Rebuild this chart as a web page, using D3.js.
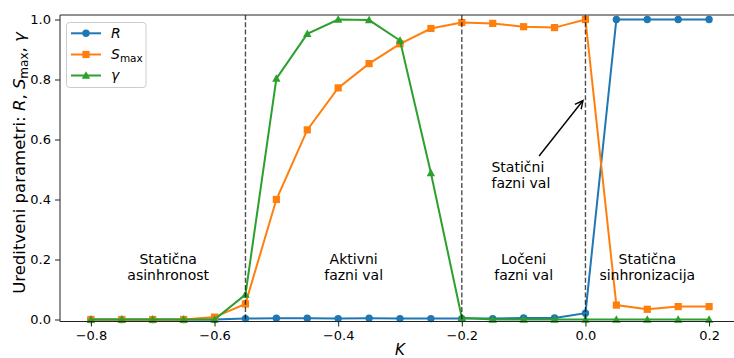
<!DOCTYPE html>
<html><head><meta charset="utf-8">
<script src="https://cdn.jsdelivr.net/npm/d3@7"></script>
<style>
body{margin:0;background:#fff;}
svg{display:block;font-family:"DejaVu Sans",sans-serif;}
</style></head>
<body><svg id="chart" width="734" height="358"></svg>
<script>
const K = [-0.8,-0.75,-0.7,-0.65,-0.6,-0.55,-0.5,-0.45,-0.4,-0.35,-0.3,-0.25,-0.2,-0.15,-0.1,-0.05,0.0,0.05,0.1,0.15,0.2];
const R = [0,0,0,0,0,0.003,0.004,0.004,0.003,0.004,0.003,0.003,0.003,0.003,0.005,0.005,0.021,1.0,1.0,1.0,1.0];
const Smax = [0,0,0,0,0.008,0.052,0.40,0.632,0.772,0.853,0.919,0.97,0.99,0.987,0.976,0.973,1.0,0.048,0.034,0.043,0.043];
const gamma = [0,0,0,0,0,0.083,0.803,0.952,1.0,0.998,0.93,0.488,0.006,0,0,0,0,0,0,0,0];
const xTicks = [-0.8,-0.6,-0.4,-0.2,0.0,0.2];
const yTicks = [0,0.2,0.4,0.6,0.8,1.0];
const vLines = [-0.55,-0.2,0.0];
const regionLabels = [
  {k:-0.675, y:0.175, lines:["Statična","asinhronost"]},
  {k:-0.375, y:0.175, lines:["Aktivni","fazni val"]},
  {k:-0.1, y:0.175, lines:["Ločeni","fazni val"]},
  {k:0.1, y:0.175, lines:["Statična","sinhronizacija"]}
];
const annot = {text:["Statični","fazni val"], tk:-0.152, ty:0.48, fromK:-0.075, fromY:0.545, toK:-0.004, toY:0.73};

(function(){
const svg = d3.select("#chart");
const pL=60, pR=740, pT=15, pB=321.5;
const x = d3.scaleLinear().domain([-0.85,0.25]).range([pL,pR]);
const y = d3.scaleLinear().domain([0,1]).range([319.5,19.5]);

const series = [
  {name:"R", vals:R, color:"#1f77b4", marker:"circle"},
  {name:"S", vals:Smax, color:"#ff7f0e", marker:"square"},
  {name:"g", vals:gamma, color:"#2ca02c", marker:"triangle"}
];
function drawMarker(g, type, cx, cy, color){
  if(type==="circle") g.append("circle").attr("cx",cx).attr("cy",cy).attr("r",3.7).attr("fill",color);
  else if(type==="square") g.append("rect").attr("x",cx-3.6).attr("y",cy-3.6).attr("width",7.2).attr("height",7.2).attr("fill",color);
  else g.append("path").attr("d",`M${cx},${cy-4.3}L${cx+4.2},${cy+3.2}L${cx-4.2},${cy+3.2}Z`).attr("fill",color);
}
const plot = svg.append("g");
series.forEach(s=>{
  const line = d3.line().x((d,i)=>x(K[i])).y(d=>y(d));
  plot.append("path").attr("d",line(s.vals)).attr("fill","none").attr("stroke",s.color).attr("stroke-width",2);
  const mg = plot.append("g");
  s.vals.forEach((v,i)=>drawMarker(mg,s.marker,x(K[i]),y(v),s.color));
});
vLines.forEach(v=>{
  svg.append("line").attr("x1",x(v)).attr("x2",x(v)).attr("y1",pT).attr("y2",pB)
    .attr("stroke","#000").attr("stroke-opacity",0.7).attr("stroke-width",1.4).attr("stroke-dasharray","5,2.3");
});
regionLabels.forEach(r=>{
  const t = svg.append("text").attr("text-anchor","middle").attr("font-size",14).attr("fill","#000");
  r.lines.forEach((l,i)=>t.append("tspan").attr("x",x(r.k)).attr("y",y(r.y)+ (i===0?-8:8)).attr("dy","0.35em").text(l));
});
{
  const t = svg.append("text").attr("text-anchor","start").attr("font-size",14).attr("fill","#000");
  annot.text.forEach((l,i)=>t.append("tspan").attr("x",x(annot.tk)).attr("y",y(annot.ty)+(i===0?-8:8)).attr("dy","0.35em").text(l));
  const x1=x(annot.fromK), y1=y(annot.fromY), x2=x(annot.toK), y2=y(annot.toY);
  svg.append("line").attr("x1",x1).attr("y1",y1).attr("x2",x2).attr("y2",y2).attr("stroke","#000").attr("stroke-width",1.4);
  const ang=Math.atan2(y2-y1,x2-x1), hl=8, hw=4;
  const bx=x2-hl*Math.cos(ang), by=y2-hl*Math.sin(ang);
  const px=-Math.sin(ang)*hw, py=Math.cos(ang)*hw;
  svg.append("path").attr("d",`M${bx+px},${by+py}L${x2},${y2}L${bx-px},${by-py}`).attr("fill","none").attr("stroke","#000").attr("stroke-width",1.4);
}
svg.append("line").attr("x1",pL).attr("x2",pR).attr("y1",pT).attr("y2",pT).attr("stroke","#222").attr("stroke-width",1);
svg.append("line").attr("x1",pL).attr("x2",pR).attr("y1",pB).attr("y2",pB).attr("stroke","#222").attr("stroke-width",1);
svg.append("line").attr("x1",pL).attr("x2",pL).attr("y1",pT).attr("y2",pB).attr("stroke","#222").attr("stroke-width",1);
const fmt = d=>d3.format(".1f")(d).replace("-","−");
const xa = svg.append("g").attr("transform",`translate(0,${pB})`)
  .call(d3.axisBottom(x).tickValues(xTicks).tickFormat(fmt).tickSize(5).tickPadding(4));
const ya = svg.append("g").attr("transform",`translate(${pL},0)`)
  .call(d3.axisLeft(y).tickValues(yTicks).tickFormat(d=>d3.format(".1f")(d)).tickSize(5).tickPadding(4));
[xa,ya].forEach(a=>{a.select(".domain").remove();a.selectAll("line").attr("stroke","#222");
  a.selectAll("text").attr("font-size",13).attr("font-family","DejaVu Sans").attr("fill","#000");});
svg.append("text").attr("x",400).attr("y",350).attr("text-anchor","middle").attr("font-size",15).attr("font-style","italic").attr("dy","0.35em").text("K");
const yl = svg.append("text").attr("transform",`translate(19,163) rotate(-90)`).attr("text-anchor","middle").attr("dy","0.35em").attr("font-size",16.5);
yl.append("tspan").text("Ureditveni parametri: ");
yl.append("tspan").attr("font-style","italic").text("R");
yl.append("tspan").text(", ");
yl.append("tspan").attr("font-style","italic").text("S");
yl.append("tspan").attr("font-size",12).attr("dy","3").text("max");
yl.append("tspan").attr("dy","-3").text(", ");
yl.append("tspan").attr("font-style","italic").text("γ");
const lg = svg.append("g");
lg.append("rect").attr("x",66.5).attr("y",22.5).attr("width",79.5).attr("height",65).attr("rx",3)
  .attr("fill","#fff").attr("fill-opacity",0.8).attr("stroke","#ccc").attr("stroke-width",1);
const legItems = [
  {s:series[0], y:33.3, label:[{t:"R",it:true}]},
  {s:series[1], y:54.5, label:[{t:"S",it:true},{t:"max",sub:true}]},
  {s:series[2], y:75.5, label:[{t:"γ",it:true}]}
];
legItems.forEach(it=>{
  lg.append("line").attr("x1",71).attr("x2",101).attr("y1",it.y).attr("y2",it.y).attr("stroke",it.s.color).attr("stroke-width",2);
  drawMarker(lg,it.s.marker,86,it.y,it.s.color);
  const t = lg.append("text").attr("x",111).attr("y",it.y).attr("dy","0.35em").attr("font-size",14);
  it.label.forEach(p=>{
    const sp=t.append("tspan").text(p.t);
    if(p.it) sp.attr("font-style","italic");
    if(p.sub) sp.attr("font-size",10.5).attr("dy",3);
  });
});
})();
</script></body></html>
